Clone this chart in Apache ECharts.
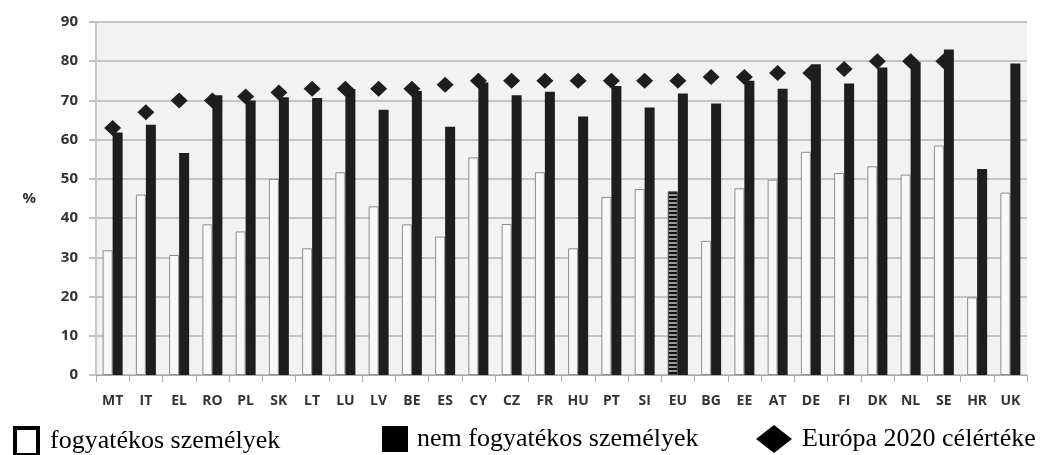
<!DOCTYPE html>
<html>
<head>
<meta charset="utf-8">
<script src="https://cdn.jsdelivr.net/npm/echarts@6/dist/echarts.min.js"></script>
<style>html,body{margin:0;padding:0;background:#fff}#c{width:1044px;height:455px}</style>
</head>
<body>
<div id="c"></div>
<script>
const categories = ['MT','IT','EL','RO','PL','SK','LT','LU','LV','BE','ES','CY','CZ','FR','HU','PT','SI','EU','BG','EE','AT','DE','FI','DK','NL','SE','HR','UK'];
const disabled = [31.8,46,30.6,38.4,36.6,50,32.3,51.7,43,38.4,35.3,55.5,38.5,51.7,32.3,45.4,47.4,46.8,34.2,47.6,49.8,56.9,51.5,53.2,51.1,58.5,19.8,46.5];
const nonDisabled = [61.8,63.8,56.6,71.3,70,70.8,70.6,72.9,67.6,72.4,63.3,74.6,71.3,72.2,65.9,73.7,68.2,71.8,69.2,75,73,79.2,74.3,78.4,79.8,83,52.5,79.4];
const target2020 = [63,67,70,70,71,72,73,73,73,73,74,75,75,75,75,75,75,75,76,76,77,77,78,80,80,80,null,null];
const yTicks = {min:0, max:90, interval:10};
const names = ['fogyatékos személyek','nem fogyatékos személyek','Európa 2020 célértéke'];

const chart = echarts.init(document.getElementById('c'), null, {renderer:'canvas'});
const disabledData = disabled.map((v,i)=> categories[i]==='EU'
  ? {value:v, itemStyle:{color:'#9a9a9a', borderColor:'#555', borderWidth:1,
      decal:{symbol:'rect', color:'#111', dashArrayX:[[1,0]], dashArrayY:[2,2], symbolSize:1, rotation:0}}}
  : v);
const legendText = (pad)=>({fontFamily:'Liberation Serif', fontSize:26, color:'#000', padding:[0,0,0,pad]});
chart.setOption({
  animation:false,
  grid:{left:96, right:17, top:22, bottom:80, show:true, backgroundColor:'#f2f2f2', borderWidth:0},
  legend:[
    {left:8, top:421, itemWidth:23, itemHeight:27, itemGap:0, textStyle:legendText(7),
     data:[{name:names[0], icon:'rect', itemStyle:{color:'#fff', borderColor:'#000', borderWidth:4}}]},
    {left:377, top:421, itemWidth:26, itemHeight:26, textStyle:legendText(4),
     data:[{name:names[1], icon:'rect', itemStyle:{color:'#000'}}]},
    {left:751, top:420, itemWidth:36, itemHeight:28, textStyle:legendText(5),
     data:[{name:names[2], icon:'diamond', itemStyle:{color:'#000'}}]}
  ],
  xAxis:{type:'category', data:categories,
    axisLine:{lineStyle:{color:'#aaa', width:1}},
    axisTick:{show:true, inside:false, length:7, lineStyle:{color:'#aaa'}},
    axisLabel:{fontFamily:'Open Sans', fontWeight:'bold', fontSize:14, color:'#333', margin:19, interval:0},
    splitLine:{show:false}},
  yAxis:{type:'value', min:yTicks.min, max:yTicks.max, interval:yTicks.interval,
    name:'%', nameLocation:'middle', nameGap:60, nameRotate:0,
    nameTextStyle:{fontFamily:'Open Sans', fontWeight:'bold', fontSize:15, color:'#333'},
    axisLine:{show:true, lineStyle:{color:'#c8c8c8', width:2}},
    axisTick:{show:true, length:7, lineStyle:{color:'#c0c0c0', width:2}},
    axisLabel:{fontFamily:'Open Sans', fontWeight:'bold', fontSize:15, color:'#333', margin:18},
    splitLine:{lineStyle:{color:'#c4c4c4', width:2}}},
  series:[
    {name:names[0], type:'bar', data:disabledData, barWidth:10, barGap:'0%',
     itemStyle:{color:'#f8f8f8', borderColor:'#8c8c8c', borderWidth:1}},
    {name:names[1], type:'bar', data:nonDisabled, barWidth:10, barGap:'0%',
     itemStyle:{color:'#1e1e1e'}},
    {name:names[2], type:'scatter', data:target2020, symbol:'diamond', symbolSize:[17,16],
     itemStyle:{color:'#1e1e1e', opacity:1}, z:5}
  ]
});
</script>
</body>
</html>
